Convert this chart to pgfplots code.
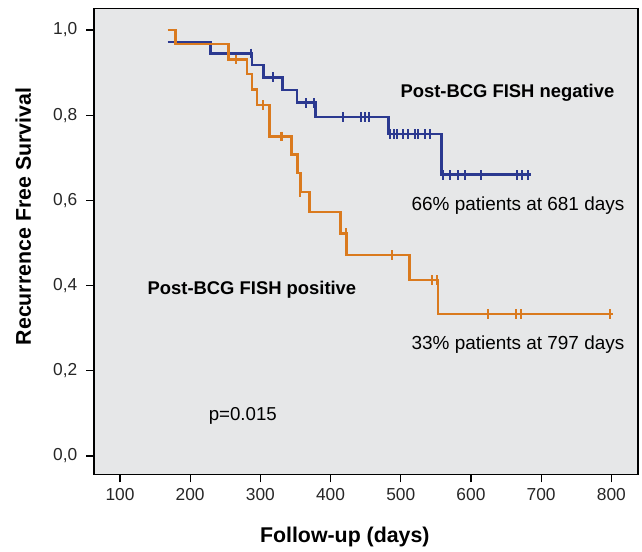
\documentclass[border=0pt]{standalone}
\usepackage{pgfplots}
\pgfplotsset{compat=1.18}
\usepackage{fontspec}
\setmainfont{Liberation Sans}
\usetikzlibrary{calc}
\definecolor{kmorange}{HTML}{DA7A1E}
\definecolor{kmblue}{HTML}{2B3990}
\definecolor{panel}{HTML}{E6E7E8}

\begin{document}
\begin{tikzpicture}
\begin{axis}[
  scale only axis, width=408pt, height=349.5pt,
  xmin=63, xmax=838, ymin=-0.043, ymax=1.051,
  xtick={100,200,...,800},
  xticklabels={100,200,300,400,500,600,700,800},
  ytick={0,0.2,0.4,0.6,0.8,1.0},
  yticklabels={{0,0},{0,2},{0,4},{0,6},{0,8},{1,0}},
  tick align=outside, tick pos=left, major tick length=6pt,
  every tick/.style={black, line width=0.9pt},
  axis line style={line width=1pt},
  axis background/.style={fill=panel},
  ticklabel style={font=\fontsize{13}{15}\selectfont, text=black!85},
  xticklabel style={yshift=-1pt},
  yticklabel style={xshift=-3pt},
  xlabel={Follow-up (days)},
  ylabel={Recurrence Free Survival},
  every axis x label/.style={at={(axis description cs:0.461,0)}, anchor=center,
    yshift=-47pt, font=\fontsize{16}{18}\selectfont\bfseries},
  every axis y label/.style={at={(axis description cs:0,0.553)}, anchor=center,
    rotate=90, yshift=53pt, font=\fontsize{16}{18}\selectfont\bfseries},
  clip=false]

% Post-BCG FISH negative
\addplot[const plot mark left, kmblue, line width=2pt] coordinates {
  (168,0.972) (229,0.945) (288,0.918) (304,0.889) (332,0.859) (352,0.829)
  (379,0.796) (483,0.756) (558,0.660) (686,0.660)};
\addplot[only marks, mark=|, mark size=3.6pt, kmblue, mark options={line width=1.5pt}] coordinates {
  (287,0.945) (318,0.889) (365,0.829) (376,0.829)
  (418,0.796) (444,0.796) (449,0.796) (455,0.796)
  (484,0.756) (490,0.756) (495,0.756) (503,0.756) (511,0.756) (520,0.756) (525,0.756) (535,0.756) (541,0.756)
  (560,0.660) (570,0.660) (582,0.660) (592,0.660) (615,0.660) (665,0.660) (673,0.660) (681,0.660)};

% Post-BCG FISH positive
\addplot[const plot mark left, kmorange, line width=2pt] coordinates {
  (168,1.0) (179,0.967) (255,0.931) (281,0.897) (288,0.861) (295,0.824)
  (313,0.750) (344,0.707) (353,0.664) (357,0.620) (370,0.573) (414,0.523)
  (423,0.472) (512,0.413) (553,0.333) (802,0.333)};
\addplot[only marks, mark=|, mark size=3.6pt, kmorange, mark options={line width=1.5pt}] coordinates {
  (266,0.931) (304,0.824) (329,0.750) (331,0.750) (356,0.620) (422,0.523) (488,0.472)
  (544,0.413) (551,0.413) (624,0.333) (664,0.333) (672,0.333) (798,0.333)};

\node[font=\fontsize{13.8}{15}\selectfont\bfseries] at (axis cs:652,0.852) {Post-BCG FISH negative};
\node[font=\fontsize{14.2}{16}\selectfont] at (axis cs:667,0.587) {66\% patients at 681 days};
\node[font=\fontsize{13.8}{15}\selectfont\bfseries] at (axis cs:288,0.390) {Post-BCG FISH positive};
\node[font=\fontsize{14.2}{16}\selectfont] at (axis cs:667,0.261) {33\% patients at 797 days};
\node[font=\fontsize{14}{16}\selectfont] at (axis cs:275,0.095) {p=0.015};

\coordinate (lo) at (rel axis cs:0,0);
\coordinate (hi) at (rel axis cs:1,1);
\end{axis}
\pgfresetboundingbox
\path ($(lo)+(-70.5pt,-58pt)$) rectangle ($(hi)+(3pt,6.2pt)$);
\end{tikzpicture}
\end{document}
